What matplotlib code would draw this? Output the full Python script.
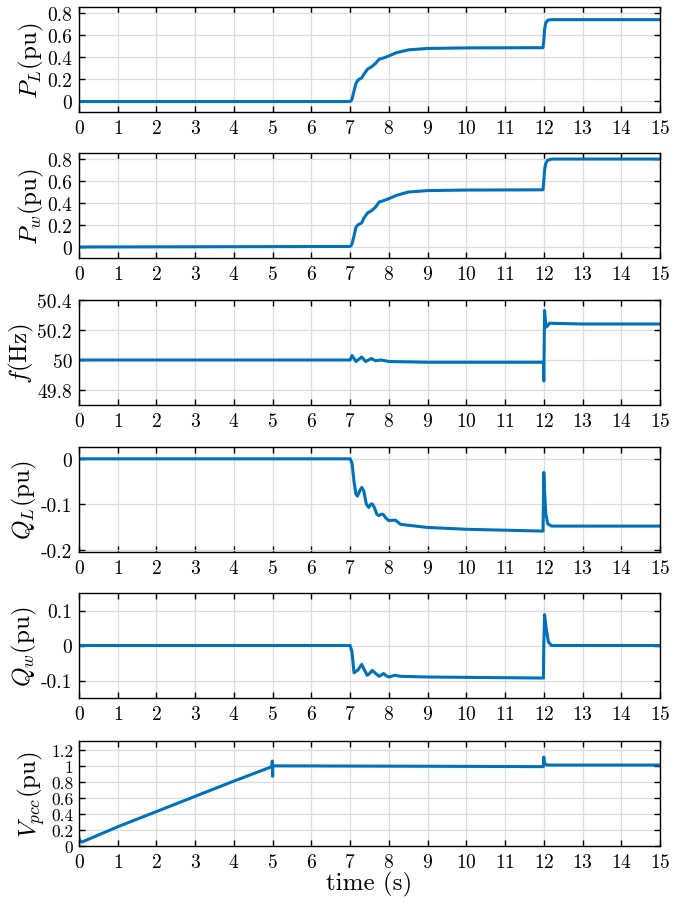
import matplotlib
matplotlib.use('Agg')
import matplotlib.pyplot as plt
from matplotlib.ticker import FormatStrFormatter

plt.rcParams.update({
    'font.family': 'serif',
    'font.serif': ['cmr10', 'DejaVu Serif'],
    'mathtext.fontset': 'cm',
    'axes.unicode_minus': False,
    'axes.formatter.use_mathtext': True,
    'font.size': 12,
})

t_pl = [0, 6.98, 7.02, 7.05, 7.1, 7.15, 7.2, 7.3, 7.35, 7.45, 7.55, 7.65, 7.75, 7.85,
        8.0, 8.2, 8.5, 9.0, 10.0, 11.98, 12.0, 12.02, 12.05, 12.1, 12.2, 15]
p_l = [-0.005, -0.005, 0.0, 0.02, 0.09, 0.16, 0.19, 0.21, 0.24, 0.29, 0.31, 0.34, 0.38, 0.39,
       0.41, 0.44, 0.465, 0.478, 0.483, 0.485, 0.55, 0.65, 0.71, 0.735, 0.74, 0.74]

t_pw = [0, 6.98, 7.02, 7.05, 7.1, 7.15, 7.2, 7.3, 7.35, 7.45, 7.55, 7.65, 7.75, 7.85,
        8.0, 8.2, 8.5, 9.0, 10.0, 11.98, 12.0, 12.02, 12.05, 12.1, 12.2, 15]
p_w = [0.0, 0.005, 0.01, 0.03, 0.1, 0.18, 0.2, 0.22, 0.26, 0.31, 0.33, 0.36, 0.41, 0.42,
       0.44, 0.47, 0.5, 0.513, 0.518, 0.52, 0.6, 0.7, 0.76, 0.79, 0.8, 0.8]

t_f = [0, 7.0, 7.05, 7.15, 7.3, 7.4, 7.55, 7.65, 7.8, 8.0, 9.0, 11.99, 12.0, 12.01,
       12.02, 12.04, 12.07, 12.15, 13, 15]
freq = [50.0, 50.0, 50.03, 49.99, 50.02, 49.99, 50.01, 49.995, 50.0, 49.99, 49.985, 49.985,
        49.86, 50.1, 50.33, 50.26, 50.22, 50.245, 50.24, 50.24]

t_ql = [0, 7.0, 7.05, 7.1, 7.15, 7.19, 7.25, 7.3, 7.35, 7.42, 7.48, 7.53, 7.57, 7.63,
        7.69, 7.74, 7.8, 7.85, 7.92, 8.0, 8.17, 8.3, 8.48, 9.0, 10.0, 11.98, 12.0,
        12.02, 12.05, 12.1, 12.2, 13, 15]
q_l = [0.0, 0.0, -0.01, -0.05, -0.078, -0.082, -0.07, -0.063, -0.07, -0.1, -0.107,
       -0.1, -0.099, -0.108, -0.122, -0.125, -0.122, -0.122, -0.13, -0.136,
       -0.135, -0.144, -0.146, -0.151, -0.155, -0.159, -0.03, -0.07, -0.12, -0.143, -0.148,
       -0.148, -0.148]

t_qw = [0, 7.0, 7.05, 7.1, 7.2, 7.3, 7.37, 7.44, 7.5, 7.57, 7.66, 7.75, 7.8, 7.86,
        7.93, 8.0, 8.15, 8.3, 9.0, 11.99, 12.0, 12.02, 12.06, 12.12, 12.2, 15]
q_w = [0.0, 0.0, -0.02, -0.078, -0.07, -0.054, -0.07, -0.085, -0.08, -0.071, -0.08,
       -0.088, -0.085, -0.08, -0.086, -0.09, -0.085, -0.088, -0.09, -0.093, 0.0, 0.088,
       0.05, 0.01, 0.0, 0.0]

t_v = [0, 0.02, 0.08, 1, 2, 3, 4, 4.98, 4.99, 5.0, 5.0, 5.01, 5.02, 9.0, 11.99,
       12.0, 12.01, 12.04, 12.1, 15]
v_pcc = [0.1, 0.06, 0.05, 0.24, 0.43, 0.62, 0.81, 0.99, 1.06, 0.87, 1.0, 1.0, 1.0, 0.995,
         0.99, 1.11, 1.03, 1.02, 1.01, 1.01]

panels = [
    (t_pl, p_l, r'$P_L(\mathrm{pu})$', (-0.1, 0.855), [0, 0.2, 0.4, 0.6, 0.8]),
    (t_pw, p_w, r'$P_w(\mathrm{pu})$', (-0.1, 0.855), [0, 0.2, 0.4, 0.6, 0.8]),
    (t_f, freq, r'$f(\mathrm{Hz})$', (49.7, 50.4), [49.8, 50, 50.2, 50.4]),
    (t_ql, q_l, r'$Q_L(\mathrm{pu})$', (-0.205, 0.026), [-0.2, -0.1, 0]),
    (t_qw, q_w, r'$Q_w(\mathrm{pu})$', (-0.15, 0.15), [-0.1, 0, 0.1]),
    (t_v, v_pcc, r'$V_{pcc}(\mathrm{pu})$', (0, 1.31), [0, 0.2, 0.4, 0.6, 0.8, 1, 1.2]),
]

fig = plt.figure(figsize=(6.94, 9.03), dpi=100)
W, H = 694.0, 903.0
left_px, right_px = 79, 660
bottoms_px = [113, 259, 406, 553, 699, 847]
height_px = 105

for (t, y, lab, ylim, yt), bpx in zip(panels, bottoms_px):
    ax = fig.add_axes([left_px / W, 1 - bpx / H, (right_px - left_px) / W, height_px / H])
    ax.plot(t, y, color='#0072BD', lw=2.2)
    ax.set_xlim(0, 15)
    ax.set_ylim(*ylim)
    ax.set_xticks(range(16))
    ax.set_yticks(yt)
    ax.yaxis.set_major_formatter(FormatStrFormatter('%g'))
    ax.grid(True, color='#dcdcdc', lw=0.9)
    ax.set_axisbelow(True)
    ax.tick_params(direction='in', top=True, right=True, length=4, width=1,
                   labelsize=14, pad=5)
    for s in ax.spines.values():
        s.set_linewidth(1)
    last = bpx == bottoms_px[-1]
    if last:
        # tightly packed y ticks on the voltage panel
        ax.tick_params(axis='y', labelsize=12.5, pad=4)
        ax.set_xlabel('time (s)', fontsize=18, labelpad=0)
    ax.set_ylabel(lab, fontsize=18, labelpad=1 if not last else 3)

fig.savefig('out.png', dpi=100)
